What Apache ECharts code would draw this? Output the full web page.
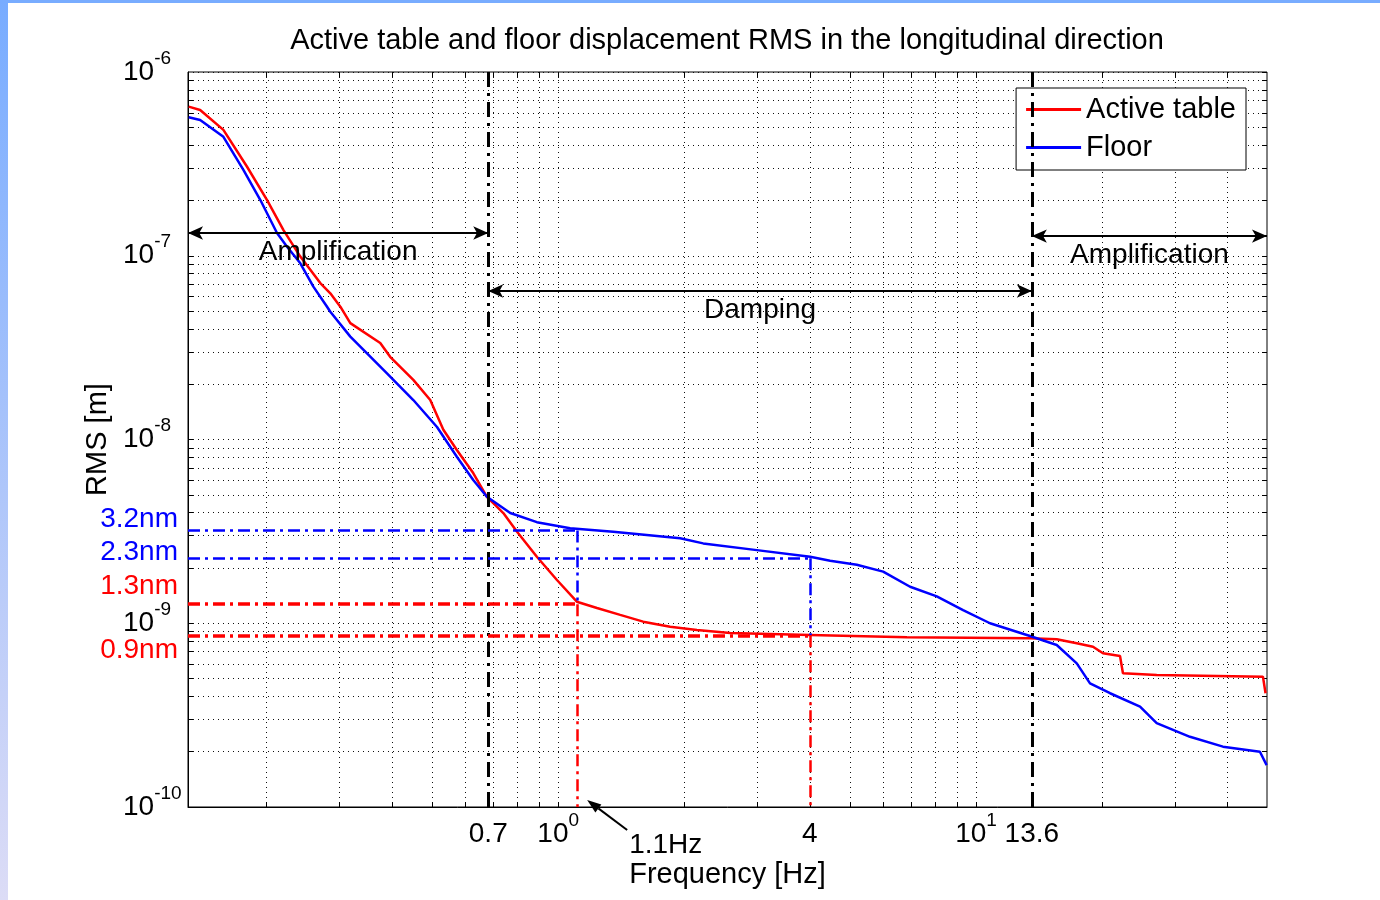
<!DOCTYPE html>
<html>
<head>
<meta charset="utf-8">
<title>Active table and floor displacement RMS</title>
<script src="https://cdn.jsdelivr.net/npm/echarts@6.0.0/dist/echarts.min.js"></script>
<style>
  html, body { margin: 0; padding: 0; background: #fff; }
  #frame { position: relative; width: 1380px; height: 900px; overflow: hidden; }
  #chart { position: absolute; left: 0; top: 0; width: 1380px; height: 900px; }
  #barLeft { position: absolute; left: 0; top: 0; width: 8px; height: 900px; background: linear-gradient(#78acff, #dcdcf6); }
  #barTop { position: absolute; left: 0; top: 0; width: 1380px; height: 3px; background: #78acff; }
</style>
</head>
<body>
<div id="frame">
  <div id="chart"></div>
  <div id="barLeft"></div>
  <div id="barTop"></div>
</div>
<script>
// curves: frequency [Hz] and RMS [m]
var tableFreq = [0.1305, 0.139, 0.158, 0.180, 0.201, 0.220, 0.2414, 0.2695, 0.2848, 0.301, 0.318, 0.375, 0.396, 0.450, 0.494, 0.531, 0.572, 0.626, 0.675, 0.713, 0.739, 0.797, 0.889, 0.993, 1.108, 1.238, 1.407, 1.597, 1.853, 2.147, 2.579, 3.215, 4.009, 6.83, 13.46, 15.6, 17.42, 19.05, 20.13, 22.11, 22.47, 27.06, 48.6, 49.3];
var tableRms = [6.48e-7, 6.21e-7, 4.84e-7, 3.05e-7, 2.01e-7, 1.38e-7, 9.9e-8, 7.1e-8, 6.25e-8, 5.28e-8, 4.3e-8, 3.35e-8, 2.82e-8, 2.11e-8, 1.64e-8, 1.13e-8, 8.77e-9, 6.57e-9, 4.88e-9, 4.31e-9, 3.98e-9, 3.15e-9, 2.3e-9, 1.72e-9, 1.31e-9, 1.21e-9, 1.11e-9, 1.02e-9, 9.58e-10, 9.19e-10, 8.85e-10, 8.74e-10, 8.63e-10, 8.38e-10, 8.28e-10, 8.18e-10, 7.78e-10, 7.45e-10, 6.86e-10, 6.63e-10, 5.34e-10, 5.23e-10, 5.12e-10, 4.16e-10];

var floorFreq = [0.1305, 0.139, 0.158, 0.1764, 0.1937, 0.2123, 0.2244, 0.2414, 0.2594, 0.2797, 0.2848, 0.318, 0.3892, 0.450, 0.5127, 0.572, 0.626, 0.675, 0.7677, 0.889, 1.068, 1.354, 1.958, 2.223, 2.988, 4.009, 4.474, 5.184, 5.993, 6.953, 8.054, 9.31, 10.8, 13.46, 15.6, 17.42, 18.74, 20.93, 24.69, 27.06, 32.51, 38.99, 47.8, 49.6];
var floorRms = [5.67e-7, 5.48e-7, 4.44e-7, 2.93e-7, 2.01e-7, 1.33e-7, 1.12e-7, 9.1e-8, 6.79e-8, 5.28e-8, 4.96e-8, 3.63e-8, 2.29e-8, 1.64e-8, 1.17e-8, 8.06e-9, 6.02e-9, 4.88e-9, 3.98e-9, 3.55e-9, 3.29e-9, 3.15e-9, 2.9e-9, 2.72e-9, 2.5e-9, 2.3e-9, 2.19e-9, 2.08e-9, 1.91e-9, 1.58e-9, 1.4e-9, 1.18e-9, 1.0e-9, 8.52e-10, 7.61e-10, 6.05e-10, 4.71e-10, 4.16e-10, 3.52e-10, 2.86e-10, 2.41e-10, 2.13e-10, 2.0e-10, 1.69e-10];

// axes
var xMin = 0.13, xMax = 49.7, yMin = 1e-10, yMax = 1e-6;
var xLabelValues = [0.68, 1, 4, 10, 13.6];
var xLabelTexts = ['0.7', '10^0', '4', '10^1', '13.6'];
var xGridValues = [0.2, 0.3, 0.4, 0.5, 0.6, 0.7, 0.8, 0.9, 1, 2, 3, 4, 5, 6, 7, 8, 9, 10, 20, 30, 40];
var yGridValues = [1e-10, 2e-10, 3e-10, 4e-10, 5e-10, 6e-10, 7e-10, 8e-10, 9e-10,
                   1e-9, 2e-9, 3e-9, 4e-9, 5e-9, 6e-9, 7e-9, 8e-9, 9e-9,
                   1e-8, 2e-8, 3e-8, 4e-8, 5e-8, 6e-8, 7e-8, 8e-8, 9e-8,
                   1e-7, 2e-7, 3e-7, 4e-7, 5e-7, 6e-7, 7e-7, 8e-7, 9e-7, 1e-6];

// annotations
var bandEdges = [0.68, 13.6];          // amplification | damping | amplification
var markFreq = [1.11, 4];             // frequencies picked out with dash-dot lines
var floorLevels = [3.2e-9, 2.26e-9];  // floor RMS at those frequencies
var tableLevels = [1.27e-9, 0.86e-9]; // table RMS at those frequencies
var nmTexts = ['3.2nm', '2.3nm', '1.3nm', '0.9nm'];
var nmLevels = [3.2e-9, 2.26e-9, 1.27e-9, 0.86e-9];
var nmShift = [-11, -6, -18, 15];
var arrowLevels = [1.33e-7, 6.43e-8, 1.28e-7];
var arrowTexts = ['Amplification', 'Damping', 'Amplification'];

var RED = '#ff0000', BLUE = '#0000ff';
var FONT = 'Liberation Sans';
var dashDot = [12, 5, 3, 5];

function zip(a, b) {
  var out = [];
  for (var i = 0; i < a.length; i++) out.push([a[i], b[i]]);
  return out;
}

function nearest(arr, v) {
  var best = 0;
  for (var i = 1; i < arr.length; i++) {
    if (Math.abs(Math.log(arr[i] / v)) < Math.abs(Math.log(arr[best] / v))) best = i;
  }
  return best;
}

function powLabel(txt) {
  var p = txt.split('^');
  if (p.length == 2) return '{b|' + p[0] + '}{s|' + p[1] + '}';
  return '{b|' + txt + '}';
}

var richPow = {
  b: { fontSize: 28, lineHeight: 46, color: '#000', fontFamily: FONT },
  s: { fontSize: 19, verticalAlign: 'top', color: '#000', fontFamily: FONT }
};

function seg(x1, y1, x2, y2, color, width) {
  return [
    { coord: [x1, y1], lineStyle: { color: color, width: width, type: dashDot } },
    { coord: [x2, y2] }
  ];
}

function arrow(x1, x2, y, text) {
  return [
    { coord: [x1, y], symbol: 'arrow', symbolSize: [10, 15],
      lineStyle: { color: '#000', width: 2, type: 'solid' },
      label: { show: true, position: 'insideMiddleBottom', distance: 5, formatter: text,
               color: '#000', fontSize: 28, fontFamily: FONT } },
    { coord: [x2, y], symbol: 'arrow', symbolSize: [10, 15] }
  ];
}

var markData = [
  { xAxis: bandEdges[0], lineStyle: { color: '#000', width: 3, type: [15, 6, 3, 6] } },
  { xAxis: bandEdges[1], lineStyle: { color: '#000', width: 3, type: [15, 6, 3, 6] } },
  seg(xMin, floorLevels[0], markFreq[0], floorLevels[0], BLUE, 2.5),
  seg(xMin, floorLevels[1], markFreq[1], floorLevels[1], BLUE, 2.5),
  seg(xMin, tableLevels[0], markFreq[0], tableLevels[0], RED, 3.5),
  seg(xMin, tableLevels[1], markFreq[1], tableLevels[1], RED, 3.5),
  seg(markFreq[0], floorLevels[0], markFreq[0], tableLevels[0], BLUE, 2.5),
  seg(markFreq[1], floorLevels[1], markFreq[1], tableLevels[1], BLUE, 2.5),
  seg(markFreq[0], tableLevels[0], markFreq[0], yMin, RED, 2.5),
  seg(markFreq[1], tableLevels[1], markFreq[1], yMin, RED, 2.5),
  arrow(xMin, bandEdges[0], arrowLevels[0], arrowTexts[0]),
  arrow(bandEdges[0], bandEdges[1], arrowLevels[1], arrowTexts[1]),
  arrow(bandEdges[1], xMax, arrowLevels[2], arrowTexts[2])
];

var gridDots = { color: '#111', width: 1, type: [1, 4] };

var chart = echarts.init(document.getElementById('chart'));

var option = {
  animation: false,
  backgroundColor: 'transparent',
  textStyle: { fontFamily: FONT, color: '#000' },
  title: {
    text: 'Active table and floor displacement RMS in the longitudinal direction',
    left: 727, top: 26, padding: 0, textAlign: 'center',
    textStyle: { fontSize: 29, fontWeight: 'normal', color: '#000', fontFamily: FONT }
  },
  legend: {
    orient: 'vertical', right: 134, top: 88,
    icon: 'rect', itemWidth: 55, itemHeight: 3, itemGap: 9,
    padding: [7, 10, 8, 10],
    borderColor: '#000', borderWidth: 1, borderRadius: 0,
    backgroundColor: '#fff',
    textStyle: { fontSize: 29, color: '#000', fontFamily: FONT },
    data: ['Active table', 'Floor']
  },
  grid: {
    left: 188, right: 113, top: 72, bottom: 93,
    show: true, borderColor: '#000', borderWidth: 1, backgroundColor: '#fff',
    outerBoundsMode: 'none'
  },
  xAxis: [{
    type: 'log', logBase: 10, min: xMin, max: xMax,
    name: 'Frequency [Hz]', nameLocation: 'middle', nameGap: 53,
    nameTextStyle: { fontSize: 29, color: '#000', fontFamily: FONT },
    axisLine: { show: true, lineStyle: { color: '#000', width: 1 } },
    axisTick: { show: true, inside: true, length: 5, customValues: xGridValues, lineStyle: { color: '#000' } },
    splitLine: { show: true, lineStyle: gridDots },
    axisLabel: {
      customValues: xLabelValues, margin: 4,
      formatter: function (v) { return powLabel(xLabelTexts[nearest(xLabelValues, v)]); },
      rich: richPow
    }
  }, {
    type: 'log', logBase: 10, min: xMin, max: xMax, position: 'top',
    axisLine: { show: false },
    axisTick: { show: true, inside: true, length: 5, customValues: xGridValues, lineStyle: { color: '#000' } },
    splitLine: { show: false },
    axisLabel: { show: false }
  }],
  yAxis: [{
    type: 'log', logBase: 10, min: yMin, max: yMax,
    name: 'RMS [m]', nameLocation: 'middle', nameGap: 76,
    nameTextStyle: { fontSize: 29, color: '#000', fontFamily: FONT },
    axisLine: { show: true, lineStyle: { color: '#000', width: 1 } },
    axisTick: { show: true, inside: true, length: 5, customValues: yGridValues, lineStyle: { color: '#000' } },
    splitLine: { show: true, lineStyle: gridDots },
    axisLabel: {
      align: 'left', margin: 65,
      formatter: function (v) { return powLabel('10^' + Math.round(Math.log10(v))); },
      rich: richPow
    }
  }, {
    type: 'log', logBase: 10, min: yMin, max: yMax, position: 'right',
    axisLine: { show: false },
    axisTick: { show: true, inside: true, length: 5, customValues: yGridValues, lineStyle: { color: '#000' } },
    splitLine: { show: false },
    axisLabel: { show: false }
  }],
  series: [{
    name: 'Active table', type: 'line', symbol: 'none',
    xAxisIndex: 0, yAxisIndex: 0,
    lineStyle: { color: RED, width: 2.5 }, itemStyle: { color: RED },
    data: zip(tableFreq, tableRms),
    markLine: {
      silent: true, symbol: ['none', 'none'],
      label: { show: false },
      data: markData
    }
  }, {
    name: 'Floor', type: 'line', symbol: 'none',
    xAxisIndex: 0, yAxisIndex: 0,
    lineStyle: { color: BLUE, width: 2.5 }, itemStyle: { color: BLUE },
    data: zip(floorFreq, floorRms)
  }]
};

chart.setOption(option);

// texts placed beside the axes, positioned through the chart's own scales
function px(x, y) { return chart.convertToPixel({ gridIndex: 0 }, [x, y]); }

function textEl(str, x, y, color, align) {
  return {
    type: 'text', x: x, y: y, z: 20,
    style: {
      text: str, fill: color, font: '28px "' + FONT + '"',
      align: align, verticalAlign: 'middle', textAlign: align, textVerticalAlign: 'middle'
    }
  };
}

var graphics = [];
var leftEdge = px(xMin, yMin)[0];
for (var i = 0; i < nmTexts.length; i++) {
  var py = px(xMin, nmLevels[i])[1];
  graphics.push(textEl(nmTexts[i], leftEdge - 10, py + nmShift[i], i < 2 ? BLUE : RED, 'right'));
}

var foot = px(markFreq[0], yMin);
var tip = [foot[0] + 10, foot[1] - 7];
var tail = [foot[0] + 50, foot[1] + 23];
var dx = tip[0] - tail[0], dy = tip[1] - tail[1];
var len = Math.sqrt(dx * dx + dy * dy);
var ux = dx / len, uy = dy / len;
var bx = tip[0] - 14 * ux, by = tip[1] - 14 * uy;
graphics.push({
  type: 'line', z: 20,
  shape: { x1: tail[0], y1: tail[1], x2: bx, y2: by },
  style: { stroke: '#000', lineWidth: 2 }
});
graphics.push({
  type: 'polygon', z: 20,
  shape: { points: [tip, [bx - 5 * uy, by + 5 * ux], [bx + 5 * uy, by - 5 * ux]] },
  style: { fill: '#000' }
});
graphics.push(textEl('1.1Hz', foot[0] + 52, foot[1] + 38, '#000', 'left'));

chart.setOption({ graphic: graphics });
</script>
</body>
</html>
